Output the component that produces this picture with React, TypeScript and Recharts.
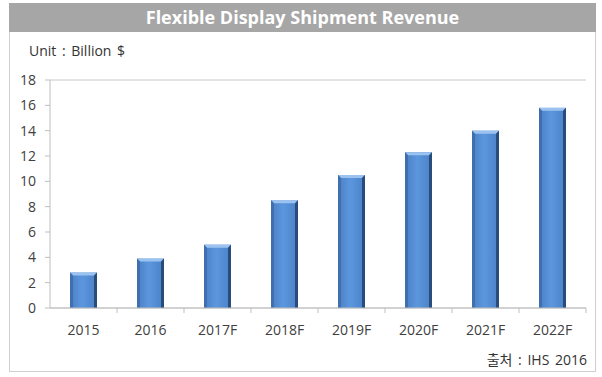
import React from 'react';
import { BarChart, Bar, XAxis, YAxis, CartesianGrid } from 'recharts';

const years = ['2015', '2016', '2017F', '2018F', '2019F', '2020F', '2021F', '2022F'];
const revenue = [2.8, 3.9, 5.0, 8.5, 10.5, 12.3, 14.0, 15.8];
const yTicks = [0, 2, 4, 6, 8, 10, 12, 14, 16, 18];

const data = years.map((year, i) => ({ year, revenue: revenue[i] }));

const FONT = '"Open Sans", "Noto Sans CJK KR", sans-serif';
const W = 602;
const H = 377;
const margin = { top: 80, right: 16, left: 10, bottom: 39 };
const halfBand = (W - 50 - margin.right) / years.length / 2;

// bevelled bar like the office chart style
const BevelBar = (props: any) => {
  const { x, y, width, height } = props;
  if (!height || height <= 0) return null;
  const b = 3;
  return (
    <g>
      <rect x={x} y={y} width={width} height={height} fill="url(#barGrad)" />
      <polygon
        points={`${x},${y} ${x + width},${y} ${x + width - b},${y + b} ${x + b},${y + b}`}
        fill="#9cc3f0"
      />
      <polygon
        points={`${x + width},${y} ${x + width},${y + height} ${x + width - b},${y + height} ${x + width - b},${y + b}`}
        fill="#284d7d"
      />
      <polygon
        points={`${x},${y} ${x + b},${y + b} ${x + b},${y + height} ${x},${y + height}`}
        fill="#3f6fae"
      />
    </g>
  );
};

const XTick = (props: any) => {
  const { x, y, payload } = props;
  return (
    <g>
      <line x1={x + halfBand} y1={y - 8} x2={x + halfBand} y2={y - 3} stroke="#bfbfbf" />
      <text x={x} y={y + 19} textAnchor="middle" fontSize={14} fill="#404040" fontFamily={FONT}>
        {payload.value}
      </text>
    </g>
  );
};

export default function App() {
  return (
    <div style={{ position: 'absolute', left: 0, top: 0, width: W, height: H, background: '#fff', fontFamily: FONT }}>
      <div
        style={{
          position: 'absolute', left: 9, top: 3, width: 587, height: 369,
          border: '1px solid #cfcfcf', boxSizing: 'border-box',
        }}
      />
      <div
        style={{
          position: 'absolute', left: 9, top: 3, width: 587, height: 29, background: '#a6a6a6',
          color: '#fff', fontWeight: 700, fontSize: 18, textAlign: 'center', lineHeight: '29px',
        }}
      >
        Flexible Display Shipment Revenue
      </div>
      <div style={{ position: 'absolute', left: 29, top: 41, fontSize: 14, color: '#333', wordSpacing: 2 }}>
        Unit : Billion $
      </div>
      <div style={{ position: 'absolute', right: 15, top: 349, fontSize: 14, color: '#333', wordSpacing: 2 }}>
        출처 : IHS 2016
      </div>
      <div style={{ position: 'absolute', left: 0, top: 0 }}>
        <BarChart width={W} height={H} data={data} margin={margin}>
          <defs>
            <linearGradient id="barGrad" x1="0" y1="0" x2="1" y2="0">
              <stop offset="0%" stopColor="#4a7fc4" />
              <stop offset="45%" stopColor="#5c97de" />
              <stop offset="100%" stopColor="#4a80c6" />
            </linearGradient>
          </defs>
          <CartesianGrid vertical={false} stroke="#c8c8c8" />
          <XAxis
            dataKey="year"
            axisLine={{ stroke: '#bfbfbf' }}
            tickLine={false}
            tick={<XTick />}
            interval={0}
          />
          <YAxis
            yAxisId="left"
            width={40}
            domain={[0, 18]}
            ticks={yTicks}
            axisLine={{ stroke: '#bfbfbf' }}
            tickLine={{ stroke: '#bfbfbf' }}
            tickSize={5}
            tickMargin={9}
            tick={{ fontSize: 14, fill: '#404040', fontFamily: FONT }}
          />
          <YAxis
            yAxisId="right"
            orientation="right"
            width={0}
            domain={[0, 18]}
            tick={false}
            tickLine={false}
            axisLine={{ stroke: '#bfbfbf' }}
          />
          <Bar
            yAxisId="left"
            dataKey="revenue"
            barSize={27}
            shape={<BevelBar />}
            isAnimationActive={false}
          />
        </BarChart>
      </div>
    </div>
  );
}
